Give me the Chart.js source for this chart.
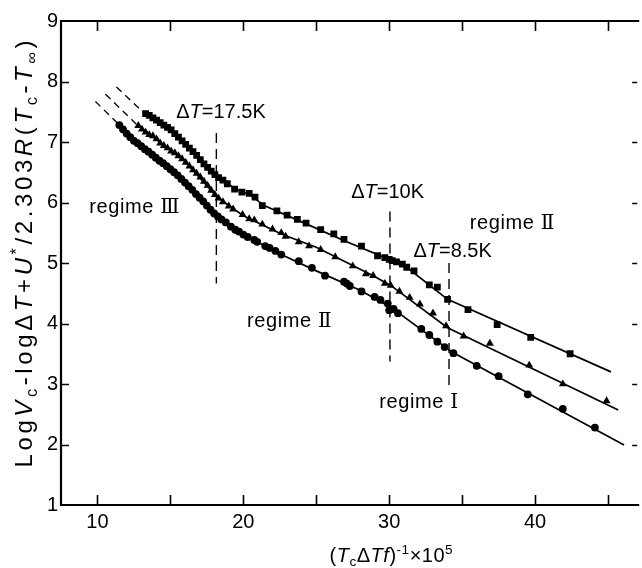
<!DOCTYPE html>
<html>
<head>
<meta charset="utf-8">
<script src="https://cdn.jsdelivr.net/npm/chart.js@4/dist/chart.umd.min.js"></script>
<style>
    html, body { margin: 0; padding: 0; background: #fff; overflow: hidden; }
</style>
</head>
<body>
<canvas id="chart" width="642" height="568"></canvas>
<script>
// squares (top curve)
const squareX = [13.3, 13.55, 13.8, 14.05, 14.3, 14.55, 14.8, 15.05, 15.3, 15.55, 15.8, 16.05, 16.3, 16.55, 16.8, 17.05, 17.3, 17.55, 17.8, 18.05,
                 18.3, 18.6, 18.9, 19.4, 19.9, 20.4, 20.8, 21.3, 22.3, 23.0, 23.7, 24.3, 25.3, 26.2, 26.9, 28.1, 29.2, 29.7, 30.0, 30.2, 30.5,
                 30.9, 31.2, 31.7, 32.75, 33.3, 34.0, 35.4, 37.4, 39.7, 42.4];
const squareY = [7.47, 7.44, 7.40, 7.36, 7.32, 7.28, 7.24, 7.20, 7.14, 7.08, 7.02, 6.96, 6.90, 6.84, 6.78, 6.71, 6.64, 6.58, 6.52, 6.46,
                 6.41, 6.37, 6.31, 6.22, 6.17, 6.15, 6.09, 5.95, 5.86, 5.79, 5.72, 5.66, 5.55, 5.48, 5.39, 5.28, 5.12, 5.09, 5.06, 5.04, 5.02,
                 4.98, 4.93, 4.87, 4.64, 4.60, 4.40, 4.23, 3.98, 3.77, 3.50];
const squareFitX = [13.1, 15.0, 18.2, 19.5, 20.4, 21.5, 24.0, 27.0, 30.0, 31.2, 34.0, 45.2];
const squareFitY = [7.50, 7.21, 6.43, 6.22, 6.13, 5.94, 5.68, 5.36, 5.06, 4.93, 4.40, 3.20];
const squareDashX = [11.3, 13.1];
const squareDashY = [7.91, 7.50];

// triangles (middle curve)
const triX = [12.8, 13.05, 13.3, 13.55, 13.8, 14.05, 14.3, 14.55, 14.8, 15.05, 15.3, 15.55, 15.8, 16.05, 16.3, 16.55, 16.8, 17.05, 17.3, 17.55,
              17.8, 18.05, 18.3, 18.6, 19.0, 19.3, 19.95, 20.4, 20.75, 21.3, 22.0, 22.6, 22.9, 23.8, 24.5, 25.3, 26.3, 27.5, 28.4, 28.9,
              29.7, 30.1, 30.7, 31.4, 32.1, 33.0, 33.9, 35.1, 36.9, 39.6, 41.9, 44.9];
const triY = [7.27, 7.21, 7.16, 7.12, 7.10, 7.05, 6.98, 6.94, 6.90, 6.85, 6.82, 6.77, 6.72, 6.66, 6.60, 6.54, 6.48, 6.42, 6.35, 6.28,
              6.20, 6.13, 6.07, 6.01, 5.94, 5.89, 5.80, 5.73, 5.71, 5.64, 5.56, 5.50, 5.44, 5.35, 5.28, 5.22, 5.10, 4.95, 4.82, 4.79,
              4.66, 4.63, 4.53, 4.43, 4.32, 4.17, 3.96, 3.79, 3.67, 3.31, 3.00, 2.72];
const triFitX = [12.77, 14.0, 16.0, 18.2, 20.0, 22.6, 25.0, 28.9, 30.1, 34.0, 45.7];
const triFitY = [7.27, 7.05, 6.68, 6.09, 5.78, 5.48, 5.26, 4.79, 4.63, 3.93, 2.57];
const triDashX = [10.55, 12.77];
const triDashY = [7.79, 7.27];

// circles (bottom curve)
const circX = [11.5, 11.75, 12.0, 12.25, 12.5, 12.75, 13.0, 13.25, 13.5, 13.75, 14.0, 14.25, 14.5, 14.75, 15.0, 15.25, 15.5, 15.75, 16.0, 16.25,
               16.5, 16.75, 17.0, 17.25, 17.5, 17.75, 18.0, 18.25, 18.5, 18.8, 19.15, 19.45, 19.7, 20.0, 20.3, 20.75, 20.95, 21.5, 21.8, 22.2,
               22.6, 23.8, 24.7, 25.6, 26.9, 27.1, 27.3, 28.1, 29.0, 29.4, 29.9, 30.0, 30.3, 30.6, 32.2, 32.75, 33.3, 33.8, 34.4, 36.0,
               37.5, 39.5, 41.9, 44.1];
const circY = [7.28, 7.21, 7.14, 7.08, 7.02, 6.98, 6.93, 6.88, 6.84, 6.79, 6.74, 6.69, 6.65, 6.60, 6.55, 6.50, 6.45, 6.39, 6.33, 6.27,
               6.21, 6.14, 6.08, 6.02, 5.95, 5.88, 5.82, 5.77, 5.72, 5.67, 5.60, 5.55, 5.52, 5.47, 5.43, 5.38, 5.35, 5.28, 5.25, 5.20,
               5.14, 5.03, 4.92, 4.79, 4.69, 4.66, 4.62, 4.53, 4.44, 4.39, 4.33, 4.22, 4.24, 4.17, 3.91, 3.81, 3.70, 3.61, 3.51, 3.30,
               3.13, 2.83, 2.59, 2.28];
const circFitX = [11.5, 13.0, 15.0, 17.0, 18.2, 20.0, 22.6, 25.0, 28.0, 30.1, 34.3, 46.1];
const circFitY = [7.28, 6.93, 6.55, 6.08, 5.78, 5.47, 5.14, 4.87, 4.55, 4.27, 3.53, 1.99];
const circDashX = [9.86, 11.5];
const circDashY = [7.67, 7.28];

// vertical dashed markers for the regime transitions
const markerX = [18.15, 30.05, 34.1];
const markerTop = [7.15, 5.85, 5.0];
const markerBottom = [4.66, 3.37, 2.93];

// ΔT labels and regime labels (left edge, baseline)
const deltaLabels = ["17.5K", "10K", "8.5K"];
const deltaX = [15.40, 27.39, 31.66];
const deltaY = [7.40, 6.08, 5.10];
const regimeLabels = ["Ⅲ", "Ⅱ", "Ⅱ", "Ⅰ"];
const regimeX = [9.44, 35.52, 20.25, 29.32];
const regimeY = [5.83, 5.56, 3.95, 2.60];

// axis ticks
const xTickValues = [10, 15, 20, 25, 30, 35, 40, 45];
const yTickValues = [1, 2, 3, 4, 5, 6, 7, 8, 9];

const FONT = '"Liberation Sans", Arial, sans-serif';

function toPoints(xs, ys)
{
    return xs.map((x, i) => ({x: x, y: ys[i]}));
}

function fontFor(style, size)
{
    if (style === "i") return "italic " + size + "px " + FONT;
    if (style === "r") return size + "px \"DejaVu Serif\", serif";
    return size + "px " + FONT;
}

// draws text made of pieces: n normal, i italic, b subscript, p superscript, r roman numeral
function drawRich(ctx, pieces, x, y, size, tracking, align)
{
    const items = [];
    let total = 0;
    pieces.forEach(([text, style]) =>
    {
        let s = size, dy = 0, st = style;
        if (style === "b") { s = size * 0.68; dy = size * 0.22; st = "n"; }
        if (style === "p") { s = size * 0.68; dy = -size * 0.42; st = "n"; }
        ctx.font = fontFor(st, s);
        for (const ch of text)
        {
            const w = ctx.measureText(ch).width;
            items.push({ch: ch, font: ctx.font, dy: dy, w: w});
            total += w + tracking;
        }
    });
    total -= tracking;
    let cx = align === "center" ? x - total / 2 : x;
    ctx.textBaseline = "alphabetic";
    ctx.textAlign = "left";
    items.forEach(it =>
    {
        ctx.font = it.font;
        ctx.fillText(it.ch, cx, y + it.dy);
        cx += it.w + tracking;
    });
}

const framePlugin =
{
    id: "frame",
    afterDraw(chart)
    {
        const ctx = chart.ctx;
        const a = chart.chartArea;
        const xs = chart.scales.x;
        const ys = chart.scales.y;

        ctx.save();
        ctx.strokeStyle = "#000";
        ctx.fillStyle = "#000";

        // frame (right side is off the picture)
        ctx.lineWidth = 2.2;
        ctx.beginPath();
        ctx.moveTo(a.right + 2, a.top);
        ctx.lineTo(a.left, a.top);
        ctx.lineTo(a.left, a.bottom);
        ctx.lineTo(a.right + 2, a.bottom);
        ctx.stroke();

        // inward ticks
        ctx.lineWidth = 1.6;
        ctx.beginPath();
        xTickValues.forEach(v =>
        {
            const px = Math.round(xs.getPixelForValue(v)) + 0.5;
            ctx.moveTo(px, a.bottom); ctx.lineTo(px, a.bottom - 10);
            ctx.moveTo(px, a.top); ctx.lineTo(px, a.top + 10);
        });
        yTickValues.slice(1, -1).forEach(v =>
        {
            const py = Math.round(ys.getPixelForValue(v)) + 0.5;
            ctx.moveTo(a.left, py); ctx.lineTo(a.left + 8, py);
            ctx.moveTo(a.right, py); ctx.lineTo(a.right - 5, py);
        });
        ctx.stroke();

        // annotations
        deltaLabels.forEach((t, i) =>
        {
            drawRich(ctx, [["Δ", "n"], ["T", "i"], ["=" + t, "n"]],
                xs.getPixelForValue(deltaX[i]), ys.getPixelForValue(deltaY[i]), 20, 0, "left");
        });
        regimeLabels.forEach((t, i) =>
        {
            drawRich(ctx, [["regime ", "n"], [t, "r"]],
                xs.getPixelForValue(regimeX[i]), ys.getPixelForValue(regimeY[i]), 20, 0.6, "left");
        });

        // x axis title
        drawRich(ctx, [["(", "n"], ["T", "i"], ["c", "b"], ["Δ", "n"], ["Tf", "i"], [")", "n"], ["-1", "p"], ["×10", "n"], ["5", "p"]],
            (a.left + a.right) / 2 + 42, 562, 20, 0.5, "center");

        // y axis title, rotated
        ctx.translate(32, 254);
        ctx.rotate(-Math.PI / 2);
        drawRich(ctx, [["Log", "n"], ["V", "i"], ["c", "b"], ["-log", "n"], ["Δ", "n"], ["T", "i"], ["+", "n"], ["U", "i"], ["*", "p"],
                       ["/2.303", "n"], ["R", "i"], ["(", "n"], ["T", "i"], ["c", "b"], ["-", "n"], ["T", "i"], ["∞", "b"], [")", "n"]],
            0, 0, 24, 3.6, "center");
        ctx.restore();
    }
};

const black = "#000";
const datasets = [];

// fitted lines
[[squareFitX, squareFitY], [triFitX, triFitY], [circFitX, circFitY]].forEach(([xs, ys]) =>
{
    datasets.push({data: toPoints(xs, ys), showLine: true, borderColor: black, borderWidth: 1.7, pointRadius: 0, tension: 0});
});

// dashed extrapolations
[[squareDashX, squareDashY], [triDashX, triDashY], [circDashX, circDashY]].forEach(([xs, ys]) =>
{
    datasets.push({data: toPoints(xs, ys), showLine: true, borderColor: black, borderWidth: 1.3, borderDash: [7, 5], pointRadius: 0});
});

// vertical markers
markerX.forEach((x, i) =>
{
    datasets.push({data: [{x: x, y: markerTop[i]}, {x: x, y: markerBottom[i]}], showLine: true, borderColor: black,
        borderWidth: 1.4, borderDash: [10, 6], pointRadius: 0});
});

// measured points
datasets.push({data: toPoints(squareX, squareY), pointStyle: "rect", pointRadius: 4.8, backgroundColor: black, borderWidth: 0});
datasets.push({data: toPoints(triX, triY), pointStyle: "triangle", pointRadius: 4.6, backgroundColor: black, borderWidth: 0});
datasets.push({data: toPoints(circX, circY), pointStyle: "circle", pointRadius: 3.9, backgroundColor: black, borderWidth: 0});

new Chart(document.getElementById("chart"),
{
    type: "scatter",
    data: {datasets: datasets},
    options:
    {
        responsive: false,
        animation: false,
        events: [],
        layout: {padding: {top: 21, right: 0, left: 0, bottom: 0}},
        plugins: {legend: {display: false}, tooltip: {enabled: false}},
        scales:
        {
            x:
            {
                type: "linear",
                min: 7.5,
                max: 47,
                grid: {display: false, drawTicks: false},
                border: {display: false},
                ticks:
                {
                    color: black,
                    font: {family: FONT, size: 20},
                    padding: 5,
                    maxRotation: 0,
                    autoSkip: false,
                    callback: v => (v % 10 === 0 ? String(v) : "")
                },
                afterBuildTicks: s => { s.ticks = xTickValues.map(v => ({value: v})); },
                afterFit: s => { s.height = 63; }
            },
            y:
            {
                type: "linear",
                min: 1,
                max: 9,
                grid: {display: false, drawTicks: false},
                border: {display: false},
                ticks:
                {
                    color: black,
                    font: {family: FONT, size: 20},
                    padding: 3,
                    stepSize: 1
                },
                afterBuildTicks: s => { s.ticks = yTickValues.map(v => ({value: v})); },
                afterFit: s => { s.width = 61; }
            }
        }
    },
    plugins: [framePlugin]
});
</script>
</body>
</html>
